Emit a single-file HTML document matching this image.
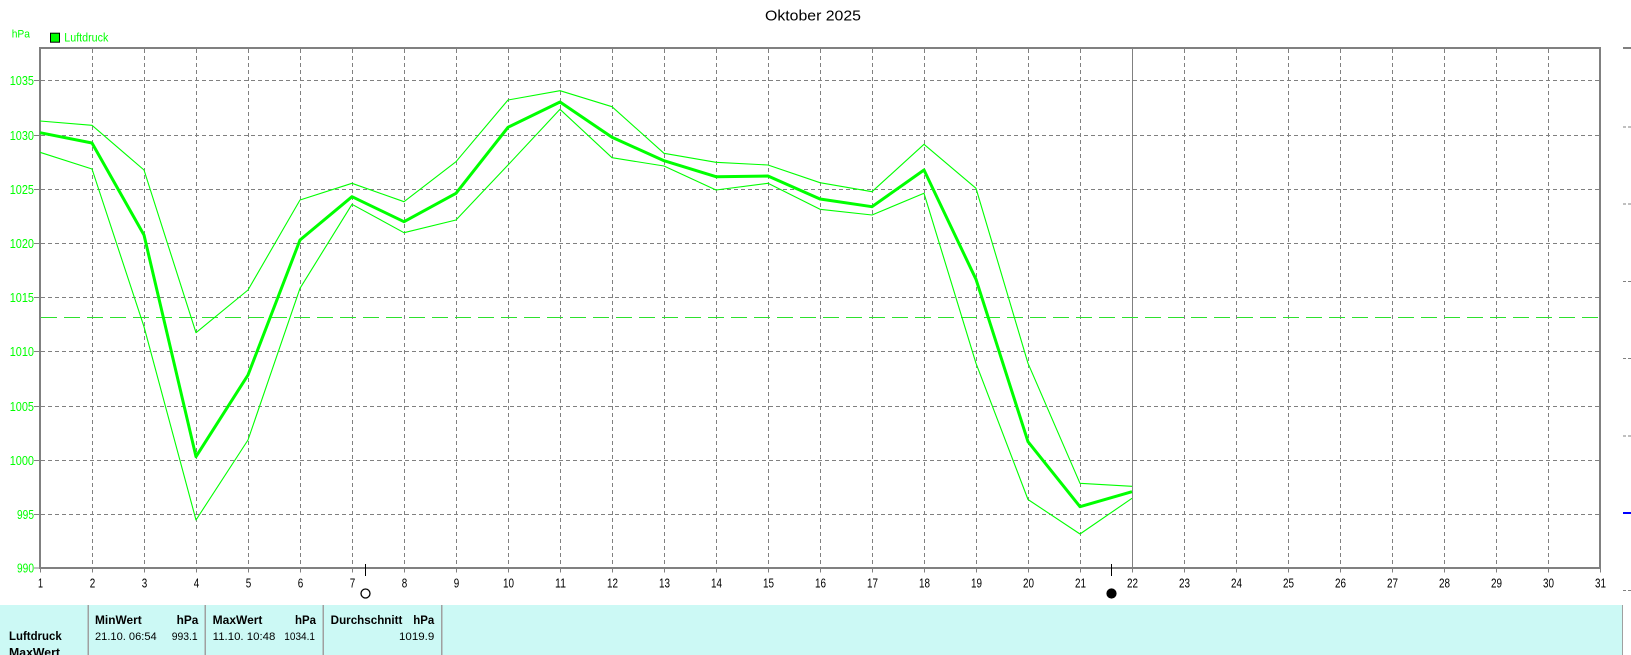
<!DOCTYPE html>
<html>
<head>
<meta charset="utf-8">
<style>
html,body{margin:0;padding:0;background:#fff;}
svg{display:block;}
text{font-family:"Liberation Sans",Arial,sans-serif;}
</style>
</head>
<body>
<svg width="1631" height="655" viewBox="0 0 1631 655" xmlns="http://www.w3.org/2000/svg">
<rect x="0" y="0" width="1631" height="655" fill="#ffffff"/>

<!-- Title -->
<text x="765" y="20.7" font-size="14.5" fill="#000" textLength="96" lengthAdjust="spacingAndGlyphs">Oktober 2025</text>

<!-- hPa + legend -->
<text x="11.7" y="37.3" font-size="11" fill="#00ff00" textLength="18.3" lengthAdjust="spacingAndGlyphs">hPa</text>
<rect x="50.5" y="33.2" width="9" height="9" fill="#00ff00" stroke="#000" stroke-width="1"/>
<text x="64.3" y="41.7" font-size="11.5" fill="#00ff00" textLength="44" lengthAdjust="spacingAndGlyphs">Luftdruck</text>

<!-- Horizontal grid -->
<g stroke="#808080" stroke-width="1" stroke-dasharray="4 3" shape-rendering="crispEdges">
<line x1="41" y1="80.5" x2="1599" y2="80.5"/>
<line x1="41" y1="135.5" x2="1599" y2="135.5"/>
<line x1="41" y1="189.5" x2="1599" y2="189.5"/>
<line x1="41" y1="243.5" x2="1599" y2="243.5"/>
<line x1="41" y1="297.5" x2="1599" y2="297.5"/>
<line x1="41" y1="351.5" x2="1599" y2="351.5"/>
<line x1="41" y1="406.5" x2="1599" y2="406.5"/>
<line x1="41" y1="460.5" x2="1599" y2="460.5"/>
<line x1="41" y1="514.5" x2="1599" y2="514.5"/>
</g>

<!-- Vertical grid -->
<g stroke="#808080" stroke-width="1" stroke-dasharray="4 3" shape-rendering="crispEdges">
<line x1="92.5" y1="49" x2="92.5" y2="567"/>
<line x1="144.5" y1="49" x2="144.5" y2="567"/>
<line x1="196.5" y1="49" x2="196.5" y2="567"/>
<line x1="248.5" y1="49" x2="248.5" y2="567"/>
<line x1="300.5" y1="49" x2="300.5" y2="567"/>
<line x1="352.5" y1="49" x2="352.5" y2="567"/>
<line x1="404.5" y1="49" x2="404.5" y2="567"/>
<line x1="456.5" y1="49" x2="456.5" y2="567"/>
<line x1="508.5" y1="49" x2="508.5" y2="567"/>
<line x1="560.5" y1="49" x2="560.5" y2="567"/>
<line x1="612.5" y1="49" x2="612.5" y2="567"/>
<line x1="664.5" y1="49" x2="664.5" y2="567"/>
<line x1="716.5" y1="49" x2="716.5" y2="567"/>
<line x1="768.5" y1="49" x2="768.5" y2="567"/>
<line x1="820.5" y1="49" x2="820.5" y2="567"/>
<line x1="872.5" y1="49" x2="872.5" y2="567"/>
<line x1="924.5" y1="49" x2="924.5" y2="567"/>
<line x1="976.5" y1="49" x2="976.5" y2="567"/>
<line x1="1028.5" y1="49" x2="1028.5" y2="567"/>
<line x1="1080.5" y1="49" x2="1080.5" y2="567"/>
<line x1="1184.5" y1="49" x2="1184.5" y2="567"/>
<line x1="1236.5" y1="49" x2="1236.5" y2="567"/>
<line x1="1288.5" y1="49" x2="1288.5" y2="567"/>
<line x1="1340.5" y1="49" x2="1340.5" y2="567"/>
<line x1="1392.5" y1="49" x2="1392.5" y2="567"/>
<line x1="1444.5" y1="49" x2="1444.5" y2="567"/>
<line x1="1496.5" y1="49" x2="1496.5" y2="567"/>
<line x1="1548.5" y1="49" x2="1548.5" y2="567"/>
</g>

<!-- Current day solid line -->
<line x1="1132.5" y1="49" x2="1132.5" y2="567" stroke="#808080" stroke-width="1" shape-rendering="crispEdges"/>

<!-- Reference dashed green line -->
<line x1="41" y1="317.5" x2="1599" y2="317.5" stroke="#2ee02e" stroke-width="1" stroke-dasharray="16 7" shape-rendering="crispEdges"/>

<!-- Frame -->
<g stroke="#808080" stroke-width="2" fill="none" shape-rendering="crispEdges">
<line x1="39" y1="48" x2="1601" y2="48"/>
<line x1="40" y1="47" x2="40" y2="569"/>
<line x1="1600" y1="47" x2="1600" y2="569"/>
<line x1="39" y1="568" x2="1601" y2="568"/>
</g>

<!-- Y ticks -->
<g stroke="#808080" stroke-width="1" shape-rendering="crispEdges">
<line x1="34" y1="80.5" x2="40" y2="80.5"/>
<line x1="34" y1="135.5" x2="40" y2="135.5"/>
<line x1="34" y1="189.5" x2="40" y2="189.5"/>
<line x1="34" y1="243.5" x2="40" y2="243.5"/>
<line x1="34" y1="297.5" x2="40" y2="297.5"/>
<line x1="34" y1="351.5" x2="40" y2="351.5"/>
<line x1="34" y1="406.5" x2="40" y2="406.5"/>
<line x1="34" y1="460.5" x2="40" y2="460.5"/>
<line x1="34" y1="514.5" x2="40" y2="514.5"/>
<line x1="34" y1="568" x2="40" y2="568"/>
</g>

<!-- Y labels -->
<g font-size="12.5" fill="#00ff00" text-anchor="end">
<text x="34" y="85" textLength="24.3" lengthAdjust="spacingAndGlyphs">1035</text>
<text x="34" y="140" textLength="24.3" lengthAdjust="spacingAndGlyphs">1030</text>
<text x="34" y="194" textLength="24.3" lengthAdjust="spacingAndGlyphs">1025</text>
<text x="34" y="248" textLength="24.3" lengthAdjust="spacingAndGlyphs">1020</text>
<text x="34" y="302" textLength="24.3" lengthAdjust="spacingAndGlyphs">1015</text>
<text x="34" y="356" textLength="24.3" lengthAdjust="spacingAndGlyphs">1010</text>
<text x="34" y="411" textLength="24.3" lengthAdjust="spacingAndGlyphs">1005</text>
<text x="34" y="465" textLength="24.3" lengthAdjust="spacingAndGlyphs">1000</text>
<text x="34" y="519" textLength="17" lengthAdjust="spacingAndGlyphs">995</text>
<text x="34" y="572.5" textLength="17" lengthAdjust="spacingAndGlyphs">990</text>
</g>

<!-- X ticks -->
<g stroke="#808080" stroke-width="1" shape-rendering="crispEdges">
<line x1="40.5" y1="568" x2="40.5" y2="572.5"/>
<line x1="92.5" y1="568" x2="92.5" y2="572.5"/>
<line x1="144.5" y1="568" x2="144.5" y2="572.5"/>
<line x1="196.5" y1="568" x2="196.5" y2="572.5"/>
<line x1="248.5" y1="568" x2="248.5" y2="572.5"/>
<line x1="300.5" y1="568" x2="300.5" y2="572.5"/>
<line x1="352.5" y1="568" x2="352.5" y2="572.5"/>
<line x1="404.5" y1="568" x2="404.5" y2="572.5"/>
<line x1="456.5" y1="568" x2="456.5" y2="572.5"/>
<line x1="508.5" y1="568" x2="508.5" y2="572.5"/>
<line x1="560.5" y1="568" x2="560.5" y2="572.5"/>
<line x1="612.5" y1="568" x2="612.5" y2="572.5"/>
<line x1="664.5" y1="568" x2="664.5" y2="572.5"/>
<line x1="716.5" y1="568" x2="716.5" y2="572.5"/>
<line x1="768.5" y1="568" x2="768.5" y2="572.5"/>
<line x1="820.5" y1="568" x2="820.5" y2="572.5"/>
<line x1="872.5" y1="568" x2="872.5" y2="572.5"/>
<line x1="924.5" y1="568" x2="924.5" y2="572.5"/>
<line x1="976.5" y1="568" x2="976.5" y2="572.5"/>
<line x1="1028.5" y1="568" x2="1028.5" y2="572.5"/>
<line x1="1080.5" y1="568" x2="1080.5" y2="572.5"/>
<line x1="1132.5" y1="568" x2="1132.5" y2="572.5"/>
<line x1="1184.5" y1="568" x2="1184.5" y2="572.5"/>
<line x1="1236.5" y1="568" x2="1236.5" y2="572.5"/>
<line x1="1288.5" y1="568" x2="1288.5" y2="572.5"/>
<line x1="1340.5" y1="568" x2="1340.5" y2="572.5"/>
<line x1="1392.5" y1="568" x2="1392.5" y2="572.5"/>
<line x1="1444.5" y1="568" x2="1444.5" y2="572.5"/>
<line x1="1496.5" y1="568" x2="1496.5" y2="572.5"/>
<line x1="1548.5" y1="568" x2="1548.5" y2="572.5"/>
<line x1="1600.5" y1="568" x2="1600.5" y2="572.5"/>
</g>

<!-- X labels -->
<g font-size="12.5" fill="#000" text-anchor="middle">
<text x="40.5" y="587.3" textLength="5" lengthAdjust="spacingAndGlyphs">1</text>
<text x="92.5" y="587.3" textLength="5.5" lengthAdjust="spacingAndGlyphs">2</text>
<text x="144.5" y="587.3" textLength="5.5" lengthAdjust="spacingAndGlyphs">3</text>
<text x="196.5" y="587.3" textLength="5.5" lengthAdjust="spacingAndGlyphs">4</text>
<text x="248.5" y="587.3" textLength="5.5" lengthAdjust="spacingAndGlyphs">5</text>
<text x="300.5" y="587.3" textLength="5.5" lengthAdjust="spacingAndGlyphs">6</text>
<text x="352.5" y="587.3" textLength="5.5" lengthAdjust="spacingAndGlyphs">7</text>
<text x="404.5" y="587.3" textLength="5.5" lengthAdjust="spacingAndGlyphs">8</text>
<text x="456.5" y="587.3" textLength="5.5" lengthAdjust="spacingAndGlyphs">9</text>
<text x="508.5" y="587.3" textLength="11" lengthAdjust="spacingAndGlyphs">10</text>
<text x="560.5" y="587.3" textLength="11" lengthAdjust="spacingAndGlyphs">11</text>
<text x="612.5" y="587.3" textLength="11" lengthAdjust="spacingAndGlyphs">12</text>
<text x="664.5" y="587.3" textLength="11" lengthAdjust="spacingAndGlyphs">13</text>
<text x="716.5" y="587.3" textLength="11" lengthAdjust="spacingAndGlyphs">14</text>
<text x="768.5" y="587.3" textLength="11" lengthAdjust="spacingAndGlyphs">15</text>
<text x="820.5" y="587.3" textLength="11" lengthAdjust="spacingAndGlyphs">16</text>
<text x="872.5" y="587.3" textLength="11" lengthAdjust="spacingAndGlyphs">17</text>
<text x="924.5" y="587.3" textLength="11" lengthAdjust="spacingAndGlyphs">18</text>
<text x="976.5" y="587.3" textLength="11" lengthAdjust="spacingAndGlyphs">19</text>
<text x="1028.5" y="587.3" textLength="11" lengthAdjust="spacingAndGlyphs">20</text>
<text x="1080.5" y="587.3" textLength="11" lengthAdjust="spacingAndGlyphs">21</text>
<text x="1132.5" y="587.3" textLength="11" lengthAdjust="spacingAndGlyphs">22</text>
<text x="1184.5" y="587.3" textLength="11" lengthAdjust="spacingAndGlyphs">23</text>
<text x="1236.5" y="587.3" textLength="11" lengthAdjust="spacingAndGlyphs">24</text>
<text x="1288.5" y="587.3" textLength="11" lengthAdjust="spacingAndGlyphs">25</text>
<text x="1340.5" y="587.3" textLength="11" lengthAdjust="spacingAndGlyphs">26</text>
<text x="1392.5" y="587.3" textLength="11" lengthAdjust="spacingAndGlyphs">27</text>
<text x="1444.5" y="587.3" textLength="11" lengthAdjust="spacingAndGlyphs">28</text>
<text x="1496.5" y="587.3" textLength="11" lengthAdjust="spacingAndGlyphs">29</text>
<text x="1548.5" y="587.3" textLength="11" lengthAdjust="spacingAndGlyphs">30</text>
<text x="1600.5" y="587.3" textLength="11" lengthAdjust="spacingAndGlyphs">31</text>
</g>

<!-- Moon phase markers -->
<line x1="365.5" y1="564" x2="365.5" y2="576" stroke="#000" stroke-width="1" shape-rendering="crispEdges"/>
<circle cx="365.5" cy="593.5" r="4.5" fill="#fff" stroke="#000" stroke-width="1.3"/>
<line x1="1111.5" y1="564" x2="1111.5" y2="576" stroke="#000" stroke-width="1" shape-rendering="crispEdges"/>
<circle cx="1111.5" cy="593.5" r="4.6" fill="#000" stroke="#000" stroke-width="1"/>

<!-- Data: upper (max) -->
<polyline fill="none" stroke="#00ff00" stroke-width="1.1" stroke-linejoin="round" points="
40,121 92,125.3 144,170 196,332.7 248,290 300,200 352,183.3 404,201.7 456,161.7 508,100 560,90.7 612,106.7 664,153.3 716,162.3 768,165 820,182.7 872,191.7 924,144.3 976,188.3 1028,363.3 1080,483.3 1132,486.3"/>
<!-- Data: lower (min) -->
<polyline fill="none" stroke="#00ff00" stroke-width="1.1" stroke-linejoin="round" points="
40,152.3 92,169 144,326.7 196,520 248,440 300,288.3 352,204.3 404,232.7 456,220 508,165 560,109.3 612,157.7 664,166 716,190 768,183.3 820,209.3 872,215 924,193.3 976,363.3 1028,499.5 1080,534 1132,498.3"/>
<!-- Data: mean (thick) -->
<polyline fill="none" stroke="#00ff00" stroke-width="3" stroke-linejoin="round" points="
40,132.7 92,143 144,235 196,456.7 248,375 300,240 352,196.7 404,221.7 456,193.3 508,127.3 560,102 612,137.3 664,160.7 716,176.7 768,176 820,199 872,206.7 924,170 976,279.3 1028,441.7 1080,506.7 1132,491.7"/>

<!-- Right side axis marks -->
<line x1="1623" y1="48" x2="1631" y2="48" stroke="#808080" stroke-width="2" shape-rendering="crispEdges"/>
<g stroke="#808080" stroke-width="1" stroke-dasharray="3 2" shape-rendering="crispEdges">
<line x1="1623" y1="127" x2="1631" y2="127"/>
<line x1="1623" y1="204" x2="1631" y2="204"/>
<line x1="1623" y1="281.5" x2="1631" y2="281.5"/>
<line x1="1623" y1="358.5" x2="1631" y2="358.5"/>
<line x1="1623" y1="436" x2="1631" y2="436"/>
<line x1="1623" y1="590.5" x2="1631" y2="590.5"/>
</g>
<line x1="1623" y1="513" x2="1631" y2="513" stroke="#0000ff" stroke-width="2" shape-rendering="crispEdges"/>

<!-- Table -->
<rect x="0" y="605" width="1622" height="50" fill="#ccf9f5"/>
<g stroke="#a0a0a0" stroke-width="1.5" shape-rendering="crispEdges">
<line x1="88" y1="605" x2="88" y2="655"/>
<line x1="205.3" y1="605" x2="205.3" y2="655"/>
<line x1="323.3" y1="605" x2="323.3" y2="655"/>
<line x1="441.7" y1="605" x2="441.7" y2="655"/>
</g>
<line x1="1622.5" y1="605" x2="1622.5" y2="655" stroke="#a0a0a0" stroke-width="1" shape-rendering="crispEdges"/>

<g font-size="11.5" fill="#000">
<text x="9" y="640" font-weight="bold" textLength="52.7" lengthAdjust="spacingAndGlyphs">Luftdruck</text>
<text x="9" y="656.5" font-weight="bold" textLength="51" lengthAdjust="spacingAndGlyphs">MaxWert</text>

<text x="95" y="624" font-weight="bold" textLength="46.7" lengthAdjust="spacingAndGlyphs">MinWert</text>
<text x="198.3" y="624" font-weight="bold" text-anchor="end" textLength="21.7" lengthAdjust="spacingAndGlyphs">hPa</text>
<text x="95" y="640" font-size="11" textLength="61.7" lengthAdjust="spacingAndGlyphs">21.10.  06:54</text>
<text x="197.7" y="640" font-size="11" text-anchor="end" textLength="26" lengthAdjust="spacingAndGlyphs">993.1</text>

<text x="212.7" y="624" font-weight="bold" textLength="49.7" lengthAdjust="spacingAndGlyphs">MaxWert</text>
<text x="316" y="624" font-weight="bold" text-anchor="end" textLength="21" lengthAdjust="spacingAndGlyphs">hPa</text>
<text x="212.7" y="640" font-size="11" textLength="62.7" lengthAdjust="spacingAndGlyphs">11.10.  10:48</text>
<text x="315" y="640" font-size="11" text-anchor="end" textLength="30.7" lengthAdjust="spacingAndGlyphs">1034.1</text>

<text x="330.7" y="624" font-weight="bold" textLength="71.7" lengthAdjust="spacingAndGlyphs">Durchschnitt</text>
<text x="434.3" y="624" font-weight="bold" text-anchor="end" textLength="21" lengthAdjust="spacingAndGlyphs">hPa</text>
<text x="434.3" y="640" font-size="11" text-anchor="end" textLength="35.3" lengthAdjust="spacingAndGlyphs">1019.9</text>
</g>
</svg>
</body>
</html>
